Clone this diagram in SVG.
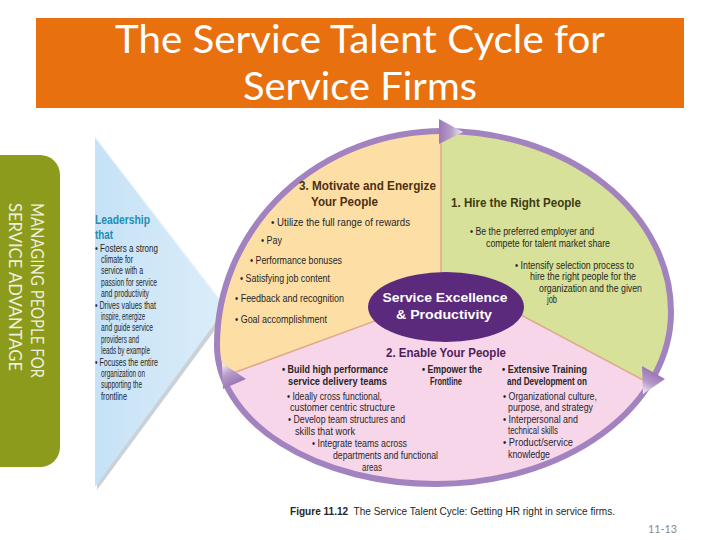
<svg xmlns="http://www.w3.org/2000/svg" width="720" height="540" viewBox="0 0 720 540">
<style>
.t{font-family:"Liberation Sans",Arial,sans-serif;font-size:10px;fill:#262626}
.tb{font-family:"Liberation Sans",Arial,sans-serif;font-size:10px;fill:#262626;font-weight:bold}
.h{font-family:"Liberation Sans",Arial,sans-serif;font-size:13.5px;font-weight:bold}
.div{stroke:#e0a88e;stroke-width:1.5;fill:none}
</style>
<defs>
<clipPath id="ringClip"><path id="ringShape" d="M 443 131 A 228 181 0 0 1 671 312 A 235 172 0 0 1 436 484 A 219 139 0 0 1 217 345 A 226 214 0 0 1 443 131 Z"/></clipPath>
<linearGradient id="triFill" x1="0" y1="0" x2="1" y2="0"><stop offset="0" stop-color="#c6e2f6"/><stop offset="1" stop-color="#dcedf9"/></linearGradient>
<linearGradient id="arTop" gradientUnits="userSpaceOnUse" x1="439" y1="132" x2="463" y2="132"><stop offset="0" stop-color="#9c78b6"/><stop offset="0.5" stop-color="#b79cca"/><stop offset="1" stop-color="#f4eef8"/></linearGradient>
<linearGradient id="arRight" gradientUnits="userSpaceOnUse" x1="654" y1="373" x2="643" y2="393"><stop offset="0" stop-color="#9c78b6"/><stop offset="0.5" stop-color="#b79cca"/><stop offset="1" stop-color="#f4eef8"/></linearGradient>
<linearGradient id="arLeft" gradientUnits="userSpaceOnUse" x1="234" y1="384" x2="222" y2="364"><stop offset="0" stop-color="#9c78b6"/><stop offset="0.5" stop-color="#b79cca"/><stop offset="1" stop-color="#f4eef8"/></linearGradient>
</defs>

<g id="title">
<rect x="36" y="18" width="648" height="90" fill="#e8700e"/>
<text x="360" y="53" text-anchor="middle" font-family="Lato, 'Open Sans', sans-serif" font-size="38" fill="#ffffff" textLength="490" lengthAdjust="spacingAndGlyphs">The Service Talent Cycle for</text>
<text x="360" y="100" text-anchor="middle" font-family="Lato, 'Open Sans', sans-serif" font-size="38" fill="#ffffff" textLength="234" lengthAdjust="spacingAndGlyphs">Service Firms</text>
</g>

<g id="sidebar">
<rect x="-25" y="155" width="85" height="312" rx="20" ry="20" fill="#8c9b1b"/>
<text transform="translate(31,203) rotate(90)" font-family="Lato, 'Open Sans', sans-serif" font-size="17" fill="#eef0dc" textLength="175" lengthAdjust="spacingAndGlyphs">MANAGING PEOPLE FOR</text>
<text transform="translate(9,203) rotate(90)" font-family="Lato, 'Open Sans', sans-serif" font-size="17" fill="#eef0dc" textLength="168" lengthAdjust="spacingAndGlyphs">SERVICE ADVANTAGE</text>
</g>

<g id="leadership">
<polygon points="97,140 229,311 97,490" fill="#8a9aa6" opacity="0.45"/>
<polygon points="95,137 226,308 95,487" fill="url(#triFill)"/>
<polyline points="95,137 226,308" stroke="#eef7fd" stroke-width="1.2" fill="none"/>
<text x="95" y="224" class="h" style="fill:#1f8db3" textLength="55" lengthAdjust="spacingAndGlyphs">Leadership</text>
<text x="95" y="239" class="h" style="fill:#1f8db3" textLength="18" lengthAdjust="spacingAndGlyphs">that</text>
<text x="95" y="251.5" class="t" textLength="63" lengthAdjust="spacingAndGlyphs">• Fosters a strong</text>
<text x="101" y="262.9" class="t" textLength="32" lengthAdjust="spacingAndGlyphs">climate for</text>
<text x="101" y="274.3" class="t" textLength="42" lengthAdjust="spacingAndGlyphs">service with a</text>
<text x="101" y="285.7" class="t" textLength="56" lengthAdjust="spacingAndGlyphs">passion for service</text>
<text x="101" y="297.1" class="t" textLength="48" lengthAdjust="spacingAndGlyphs">and productivity</text>
<text x="95" y="308.5" class="t" textLength="61" lengthAdjust="spacingAndGlyphs">• Drives values that</text>
<text x="101" y="319.9" class="t" textLength="44" lengthAdjust="spacingAndGlyphs">inspire, energize</text>
<text x="101" y="331.3" class="t" textLength="52" lengthAdjust="spacingAndGlyphs">and guide service</text>
<text x="101" y="342.7" class="t" textLength="38" lengthAdjust="spacingAndGlyphs">providers and</text>
<text x="101" y="354.1" class="t" textLength="49" lengthAdjust="spacingAndGlyphs">leads by example</text>
<text x="95" y="365.5" class="t" textLength="63" lengthAdjust="spacingAndGlyphs">• Focuses the entire</text>
<text x="101" y="376.9" class="t" textLength="44" lengthAdjust="spacingAndGlyphs">organization on</text>
<text x="101" y="388.3" class="t" textLength="41" lengthAdjust="spacingAndGlyphs">supporting the</text>
<text x="101" y="399.7" class="t" textLength="26" lengthAdjust="spacingAndGlyphs">frontline</text>
</g>

<g id="cycle-fills" clip-path="url(#ringClip)">
<rect x="200" y="120" width="500" height="380" fill="#f8d6ea"/>
<polygon id="fill-motivate" points="441,90 441,305 420,304.4 150,403.6 150,90" fill="#fddfa5"/>
<polygon id="fill-hire" points="441,90 441,272 700,410.4 720,410.4 720,90" fill="#d8e199"/>
<line class="div" x1="441" y1="90" x2="441" y2="300"/>
<line class="div" x1="470" y1="288" x2="700" y2="410.4"/>
<line class="div" x1="420" y1="304.4" x2="150" y2="403.6"/>
</g>

<g id="connectors">
<use href="#ringShape" fill="none" stroke="#a283bf" stroke-width="6"/>
<polygon points="439,119 439,144 463,132" fill="url(#arTop)"/>
<polygon points="642,366 665,379 643,394" fill="url(#arRight)"/>
<polygon points="222,363 246,379 223,389" fill="url(#arLeft)"/>
</g>

<g id="node-motivate">
<text x="299" y="190" class="h" style="fill:#4d2f12" textLength="137" lengthAdjust="spacingAndGlyphs">3. Motivate and Energize</text>
<text x="311" y="206" class="h" style="fill:#4d2f12" textLength="67" lengthAdjust="spacingAndGlyphs">Your People</text>
<text x="271" y="226" class="t" textLength="139" lengthAdjust="spacingAndGlyphs">• Utilize the full range of rewards</text>
<text x="261" y="244" class="t" textLength="21" lengthAdjust="spacingAndGlyphs">• Pay</text>
<text x="250" y="264" class="t" textLength="92" lengthAdjust="spacingAndGlyphs">• Performance bonuses</text>
<text x="240" y="282" class="t" textLength="90" lengthAdjust="spacingAndGlyphs">• Satisfying job content</text>
<text x="235" y="302" class="t" textLength="109" lengthAdjust="spacingAndGlyphs">• Feedback and recognition</text>
<text x="235" y="323" class="t" textLength="92" lengthAdjust="spacingAndGlyphs">• Goal accomplishment</text>
</g>

<g id="node-hire">
<text x="451" y="207" class="h" style="fill:#3c3b10" textLength="130" lengthAdjust="spacingAndGlyphs">1. Hire the Right People</text>
<text x="470" y="235" class="t" textLength="124" lengthAdjust="spacingAndGlyphs">• Be the preferred employer and</text>
<text x="486" y="247" class="t" textLength="124" lengthAdjust="spacingAndGlyphs">compete for talent market share</text>
<text x="515" y="269" class="t" textLength="119" lengthAdjust="spacingAndGlyphs">• Intensify selection process to</text>
<text x="530" y="280" class="t" textLength="106" lengthAdjust="spacingAndGlyphs">hire the right people for the</text>
<text x="539" y="292" class="t" textLength="103" lengthAdjust="spacingAndGlyphs">organization and the given</text>
<text x="547" y="303" class="t" textLength="10" lengthAdjust="spacingAndGlyphs">job</text>
</g>

<g id="node-enable">
<text x="386" y="357" class="h" style="fill:#4f1e5a" textLength="120" lengthAdjust="spacingAndGlyphs">2. Enable Your People</text>
<text x="282" y="373" class="tb" textLength="106" lengthAdjust="spacingAndGlyphs">• Build high performance</text>
<text x="288" y="385" class="tb" textLength="99" lengthAdjust="spacingAndGlyphs">service delivery teams</text>
<text x="287" y="400" class="t" textLength="95" lengthAdjust="spacingAndGlyphs">• Ideally cross functional,</text>
<text x="290" y="411" class="t" textLength="105" lengthAdjust="spacingAndGlyphs">customer centric structure</text>
<text x="288" y="423" class="t" textLength="117" lengthAdjust="spacingAndGlyphs">• Develop team structures and</text>
<text x="295" y="435" class="t" textLength="60" lengthAdjust="spacingAndGlyphs">skills that work</text>
<text x="312" y="447" class="t" textLength="95" lengthAdjust="spacingAndGlyphs">• Integrate teams across</text>
<text x="333" y="459" class="t" textLength="105" lengthAdjust="spacingAndGlyphs">departments and functional</text>
<text x="362" y="471" class="t" textLength="20" lengthAdjust="spacingAndGlyphs">areas</text>
<text x="422" y="373" class="tb" textLength="60" lengthAdjust="spacingAndGlyphs">• Empower the</text>
<text x="430" y="385" class="tb" textLength="32" lengthAdjust="spacingAndGlyphs">Frontline</text>
<text x="502" y="373" class="tb" textLength="85" lengthAdjust="spacingAndGlyphs">• Extensive Training</text>
<text x="507" y="385" class="tb" textLength="80" lengthAdjust="spacingAndGlyphs">and Development on</text>
<text x="503" y="400" class="t" textLength="94" lengthAdjust="spacingAndGlyphs">• Organizational culture,</text>
<text x="508" y="411" class="t" textLength="85" lengthAdjust="spacingAndGlyphs">purpose, and strategy</text>
<text x="503" y="423" class="t" textLength="75" lengthAdjust="spacingAndGlyphs">• Interpersonal and</text>
<text x="508" y="434" class="t" textLength="50" lengthAdjust="spacingAndGlyphs">technical skills</text>
<text x="503" y="446" class="t" textLength="70" lengthAdjust="spacingAndGlyphs">• Product/service</text>
<text x="508" y="458" class="t" textLength="42" lengthAdjust="spacingAndGlyphs">knowledge</text>
</g>

<g id="node-center">
<ellipse cx="446" cy="307" rx="78" ry="35" fill="#5c2a7c"/>
<text x="445" y="302" text-anchor="middle" font-family="'Liberation Sans',Arial,sans-serif" font-size="13" font-weight="bold" fill="#ffffff" textLength="125" lengthAdjust="spacingAndGlyphs">Service Excellence</text>
<text x="444" y="319" text-anchor="middle" font-family="'Liberation Sans',Arial,sans-serif" font-size="13" font-weight="bold" fill="#ffffff" textLength="96" lengthAdjust="spacingAndGlyphs">&amp; Productivity</text>
</g>

<g id="caption">
<text x="290" y="515" class="t" style="font-size:10.5px" textLength="325" lengthAdjust="spacingAndGlyphs"><tspan font-weight="bold">Figure 11.12</tspan>&#160; The Service Talent Cycle: Getting HR right in service firms.</text>
<text x="648" y="533" font-family="Lato, 'Open Sans', sans-serif" font-size="11" fill="#8a8a8a" textLength="29" lengthAdjust="spacingAndGlyphs">11-13</text>
</g>
</svg>
